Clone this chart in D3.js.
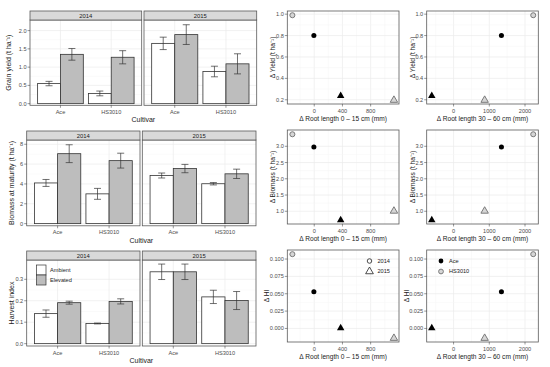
<!DOCTYPE html>
<html>
<head>
<meta charset="utf-8">
<script src="https://cdn.jsdelivr.net/npm/d3@7"></script>
<style>
  body { margin: 0; background: #fff; }
  text { font-family: "Liberation Sans", Arial, sans-serif; }
</style>
</head>
<body>
<svg id="chart" width="550" height="367"></svg>
<script>
// --- data -------------------------------------------------------------
const years = ['2014', '2015'];
const cultivars = ['Ace', 'HS3010'];
const treatments = ['Ambient', 'Elevated'];

// bar values, ordered year > cultivar > treatment
const yieldMean = [0.55, 1.35, 0.28, 1.27, 1.65, 1.89, 0.88, 1.09];
const yieldSe   = [0.06, 0.16, 0.065, 0.18, 0.17, 0.27, 0.145, 0.275];
const biomassMean = [4.1, 7.05, 3.0, 6.35, 4.85, 5.55, 4.02, 5.02];
const biomassSe   = [0.35, 0.9, 0.55, 0.75, 0.25, 0.42, 0.12, 0.47];
const hiMean = [0.140, 0.191, 0.094, 0.197, 0.335, 0.335, 0.218, 0.201];
const hiSe   = [0.017, 0.007, 0.002, 0.012, 0.036, 0.036, 0.031, 0.042];

const yieldTicks = [0, 0.5, 1.0, 1.5, 2.0];
const biomassTicks = [0, 2, 4, 6, 8];
const hiTicks = [0, 0.1, 0.2, 0.3];

// scatter points (delta elevated - ambient)
const pointCultivar = ['Ace', 'HS3010', 'Ace', 'HS3010'];
const pointYear = ['2014', '2014', '2015', '2015'];
const dRoot0to15 = [-5, -310, 375, 1130];
const dRoot30to60 = [1340, 2230, -610, 870];
const dYield = [0.80, 0.99, 0.24, 0.20];
const dBiomass = [2.98, 3.37, 0.74, 1.02];
const dHI = [0.053, 0.107, 0.001, -0.0135];

const root0Ticks = [0, 400, 800];
const root30Ticks = [0, 1000, 2000];
const dYieldTicks = [0.2, 0.4, 0.6, 0.8, 1.0];
const dBiomassTicks = [1.0, 1.5, 2.0, 2.5, 3.0];
const dHITicks = [0, 0.025, 0.05, 0.075, 0.1];

// --- style ------------------------------------------------------------
const BORDER = '#5a5a5a';
const GRID = '#ebebeb';
const GRID_MINOR = '#f4f4f4';
const TICK_TXT = '#4d4d4d';
const FS_TICK = 5.6;
const FS_TITLE = 7;

const svg = d3.select('#chart');

function hGrid(g, y, ticks, x0, x1) {
  // minor lines at midpoints
  for (let i = 0; i < ticks.length - 1; i++) {
    const m = (ticks[i] + ticks[i + 1]) / 2;
    g.append('line').attr('x1', x0).attr('x2', x1).attr('y1', y(m)).attr('y2', y(m))
      .attr('stroke', GRID_MINOR).attr('stroke-width', 0.5);
  }
  ticks.forEach(t => {
    g.append('line').attr('x1', x0).attr('x2', x1).attr('y1', y(t)).attr('y2', y(t))
      .attr('stroke', GRID).attr('stroke-width', 0.7);
  });
}

function yAxis(g, y, ticks, x0, fmt) {
  ticks.forEach(t => {
    g.append('line').attr('x1', x0 - 2.5).attr('x2', x0).attr('y1', y(t)).attr('y2', y(t))
      .attr('stroke', '#333').attr('stroke-width', 0.5);
    g.append('text').attr('x', x0 - 3.5).attr('y', y(t)).attr('dy', '0.35em')
      .attr('text-anchor', 'end').attr('font-size', FS_TICK).attr('fill', TICK_TXT)
      .text(fmt(t));
  });
}

function yTitle(g, x, yMid, txt, fs) {
  g.append('text').attr('transform', `translate(${x},${yMid}) rotate(-90)`)
    .attr('text-anchor', 'middle').attr('dy', '0.35em')
    .attr('font-size', fs).attr('fill', '#1a1a1a').text(txt);
}

// --- bar rows ---------------------------------------------------------
function barRow(cfg) {
  const g = svg.append('g');
  const y = d3.scaleLinear().domain(cfg.yDomain).range([cfg.bottom, cfg.top]);

  cfg.panels.forEach(([x0, x1], yi) => {
    const x = d3.scalePoint().domain(cultivars).range([x0, x1]).padding(0.6);
    const step = x.step();
    const bw = 0.45 * step;

    g.append('rect').attr('x', x0).attr('y', cfg.top).attr('width', x1 - x0)
      .attr('height', cfg.bottom - cfg.top).attr('fill', '#fff');
    hGrid(g, y, cfg.ticks, x0, x1);
    cultivars.forEach(c => {
      g.append('line').attr('x1', x(c)).attr('x2', x(c)).attr('y1', cfg.top).attr('y2', cfg.bottom)
        .attr('stroke', GRID).attr('stroke-width', 0.7);
    });

    cultivars.forEach((c, ci) => {
      treatments.forEach((t, ti) => {
        const i = yi * 4 + ci * 2 + ti;
        const left = x(c) - bw + ti * bw;
        g.append('rect').attr('x', left).attr('y', y(cfg.mean[i]))
          .attr('width', bw).attr('height', y(0) - y(cfg.mean[i]))
          .attr('fill', ti === 0 ? '#ffffff' : '#bdbdbd')
          .attr('stroke', '#333').attr('stroke-width', 0.8);
      });
    });
    cultivars.forEach((c, ci) => {
      treatments.forEach((t, ti) => {
        const i = yi * 4 + ci * 2 + ti;
        const cx = x(c) - bw / 2 + ti * bw;
        const lo = y(cfg.mean[i] - cfg.se[i]), hi = y(cfg.mean[i] + cfg.se[i]);
        const cap = 3.5;
        const eb = g.append('g').attr('stroke', '#333').attr('stroke-width', 0.7);
        eb.append('line').attr('x1', cx).attr('x2', cx).attr('y1', lo).attr('y2', hi);
        eb.append('line').attr('x1', cx - cap).attr('x2', cx + cap).attr('y1', lo).attr('y2', lo);
        eb.append('line').attr('x1', cx - cap).attr('x2', cx + cap).attr('y1', hi).attr('y2', hi);
      });
    });

    g.append('rect').attr('x', x0).attr('y', cfg.top).attr('width', x1 - x0)
      .attr('height', cfg.bottom - cfg.top).attr('fill', 'none')
      .attr('stroke', BORDER).attr('stroke-width', 0.8);

    // strip
    g.append('rect').attr('x', x0).attr('y', cfg.stripTop).attr('width', x1 - x0)
      .attr('height', cfg.top - cfg.stripTop).attr('fill', '#d9d9d9')
      .attr('stroke', BORDER).attr('stroke-width', 0.8);
    g.append('text').attr('x', (x0 + x1) / 2).attr('y', (cfg.stripTop + cfg.top) / 2)
      .attr('dy', '0.35em').attr('text-anchor', 'middle')
      .attr('font-size', 5.9).attr('fill', '#1a1a1a').text(years[yi]);

    // x axis
    cultivars.forEach(c => {
      g.append('line').attr('x1', x(c)).attr('x2', x(c)).attr('y1', cfg.bottom).attr('y2', cfg.bottom + 2.5)
        .attr('stroke', '#333').attr('stroke-width', 0.5);
      g.append('text').attr('x', x(c)).attr('y', cfg.bottom + 8.5).attr('text-anchor', 'middle')
        .attr('font-size', FS_TICK).attr('fill', TICK_TXT).text(c);
    });

    if (yi === 0) yAxis(g, y, cfg.ticks, x0, cfg.fmt);
  });

  const [p0, p1] = cfg.panels;
  g.append('text').attr('x', (p0[0] + p1[1]) / 2).attr('y', cfg.bottom + 17)
    .attr('text-anchor', 'middle').attr('font-size', FS_TITLE).attr('fill', '#1a1a1a').text('Cultivar');
  yTitle(g, cfg.titleX, (cfg.top + cfg.bottom) / 2, cfg.title, FS_TITLE);
  return g;
}

barRow({
  mean: yieldMean, se: yieldSe, ticks: yieldTicks, fmt: d3.format('.1f'),
  yDomain: [-0.045, 2.29], stripTop: 11, top: 20, bottom: 105.3,
  panels: [[30, 141.7], [144, 256.7]], title: 'Grain yield (t ha\u207B\u00B9)', titleX: 9
});
barRow({
  mean: biomassMean, se: biomassSe, ticks: biomassTicks, fmt: d3.format('d'),
  yDomain: [-0.22, 8.43], stripTop: 131, top: 140, bottom: 225.8,
  panels: [[26.7, 140], [142.3, 256]], title: 'Biomass at maturity (t ha\u207B\u00B9)', titleX: 12
});
const hiRow = barRow({
  mean: hiMean, se: hiSe, ticks: hiTicks, fmt: d3.format('.1f'),
  yDomain: [-0.011, 0.39], stripTop: 251, top: 260, bottom: 346,
  panels: [[26.7, 140], [142.3, 256]], title: 'Harvest index', titleX: 12
});

// treatment legend inside HI 2014 panel
treatments.forEach((t, i) => {
  hiRow.append('rect').attr('x', 36.5).attr('y', 265 + i * 10).attr('width', 9.5).attr('height', 10)
    .attr('fill', i === 0 ? '#ffffff' : '#bdbdbd').attr('stroke', '#333').attr('stroke-width', 0.7);
  hiRow.append('text').attr('x', 50).attr('y', 270 + i * 10).attr('dy', '0.35em')
    .attr('font-size', FS_TICK).attr('fill', '#1a1a1a').text(t);
});

// --- scatter panels ---------------------------------------------------
function expand(vals) {
  const [a, b] = d3.extent(vals);
  const pad = (b - a) * 0.05;
  return [a - pad, b + pad];
}

function marker(g, cx, cy, cultivar, year) {
  const type = year === '2014' ? d3.symbolCircle : d3.symbolTriangle;
  const size = year === '2014' ? 20 : 24;
  const p = g.append('path').attr('d', d3.symbol().type(type).size(size)())
    .attr('transform', `translate(${cx},${cy + (year === '2015' ? 0.4 : 0)})`);
  if (cultivar === 'Ace') p.attr('fill', '#000');
  else p.attr('fill', '#d6d6d6').attr('stroke', '#7a7a7a').attr('stroke-width', 1);
}

function scatter(cfg) {
  const g = svg.append('g');
  const x = d3.scaleLinear().domain(expand(cfg.xv)).range([cfg.x0, cfg.x1]);
  const y = d3.scaleLinear().domain(expand(cfg.yv)).range([cfg.bottom, cfg.top]);

  g.append('rect').attr('x', cfg.x0).attr('y', cfg.top).attr('width', cfg.x1 - cfg.x0)
    .attr('height', cfg.bottom - cfg.top).attr('fill', '#fff');
  // vertical grid
  const xt = cfg.xTicks, xs = xt[1] - xt[0];
  const xMinor = [xt[0] - xs / 2, ...xt.map(t => t + xs / 2)];
  xMinor.forEach(t => {
    if (x(t) > cfg.x0 && x(t) < cfg.x1)
      g.append('line').attr('x1', x(t)).attr('x2', x(t)).attr('y1', cfg.top).attr('y2', cfg.bottom)
        .attr('stroke', GRID_MINOR).attr('stroke-width', 0.5);
  });
  xt.forEach(t => {
    g.append('line').attr('x1', x(t)).attr('x2', x(t)).attr('y1', cfg.top).attr('y2', cfg.bottom)
      .attr('stroke', GRID).attr('stroke-width', 0.7);
  });
  hGrid(g, y, cfg.yTicks, cfg.x0, cfg.x1);

  cfg.xv.forEach((v, i) => marker(g, x(v), y(cfg.yv[i]), pointCultivar[i], pointYear[i]));

  g.append('rect').attr('x', cfg.x0).attr('y', cfg.top).attr('width', cfg.x1 - cfg.x0)
    .attr('height', cfg.bottom - cfg.top).attr('fill', 'none')
    .attr('stroke', BORDER).attr('stroke-width', 0.8);

  yAxis(g, y, cfg.yTicks, cfg.x0, cfg.fmt);
  xt.forEach(t => {
    g.append('line').attr('x1', x(t)).attr('x2', x(t)).attr('y1', cfg.bottom).attr('y2', cfg.bottom + 2.5)
      .attr('stroke', '#333').attr('stroke-width', 0.5);
    g.append('text').attr('x', x(t)).attr('y', cfg.bottom + 8.5).attr('text-anchor', 'middle')
      .attr('font-size', FS_TICK).attr('fill', TICK_TXT).text(t);
  });
  g.append('text').attr('x', (cfg.x0 + cfg.x1) / 2).attr('y', cfg.bottom + 17)
    .attr('text-anchor', 'middle').attr('font-size', 6.6).attr('fill', '#1a1a1a').text(cfg.xTitle);
  yTitle(g, cfg.titleX - (cfg.titleShift || 0), (cfg.top + cfg.bottom) / 2, cfg.yTitle, 6.6);
  return g;
}

const cols = [
  { x0: 287.3, x1: 399, xv: dRoot0to15, xTicks: root0Ticks, xTitle: '\u0394 Root length 0 \u2013 15 cm (mm)', titleX: 273 },
  { x0: 426.7, x1: 538.3, xv: dRoot30to60, xTicks: root30Ticks, xTitle: '\u0394 Root length 30 \u2013 60 cm (mm)', titleX: 413 }
];
const rows = [
  { top: 11, bottom: 104, yv: dYield, yTicks: dYieldTicks, fmt: d3.format('.1f'), yTitle: '\u0394 Yield (t ha\u207B\u00B9)' },
  { top: 130, bottom: 224, yv: dBiomass, yTicks: dBiomassTicks, fmt: d3.format('.1f'), yTitle: '\u0394 Biomass (t ha\u207B\u00B9)' },
  { top: 250, bottom: 342, yv: dHI, yTicks: dHITicks, fmt: d3.format('.3f'), yTitle: '\u0394 HI', titleShift: 6 }
];
const scatterGroups = rows.map(r => cols.map(c => scatter(Object.assign({}, c, r))));

// year legend (shape) and cultivar legend (colour) in the HI row
const legYear = scatterGroups[2][0];
years.forEach((yr, i) => {
  legYear.append('path')
    .attr('d', d3.symbol().type(i === 0 ? d3.symbolCircle : d3.symbolTriangle).size(i === 0 ? 16 : 26)())
    .attr('transform', `translate(369.5,${261 + i * 10.5})`)
    .attr('fill', 'none').attr('stroke', '#222').attr('stroke-width', 0.8);
  legYear.append('text').attr('x', 377.5).attr('y', 261 + i * 10.5).attr('dy', '0.35em')
    .attr('font-size', FS_TICK).attr('fill', '#1a1a1a').text(yr);
});
const legCv = scatterGroups[2][1];
cultivars.forEach((c, i) => {
  const p = legCv.append('path').attr('d', d3.symbol().type(d3.symbolCircle).size(18)())
    .attr('transform', `translate(441,${261 + i * 10.5})`);
  if (i === 0) p.attr('fill', '#000');
  else p.attr('fill', '#d6d6d6').attr('stroke', '#7a7a7a').attr('stroke-width', 1);
  legCv.append('text').attr('x', 449).attr('y', 261 + i * 10.5).attr('dy', '0.35em')
    .attr('font-size', FS_TICK).attr('fill', '#1a1a1a').text(c);
});
</script>
</body>
</html>
